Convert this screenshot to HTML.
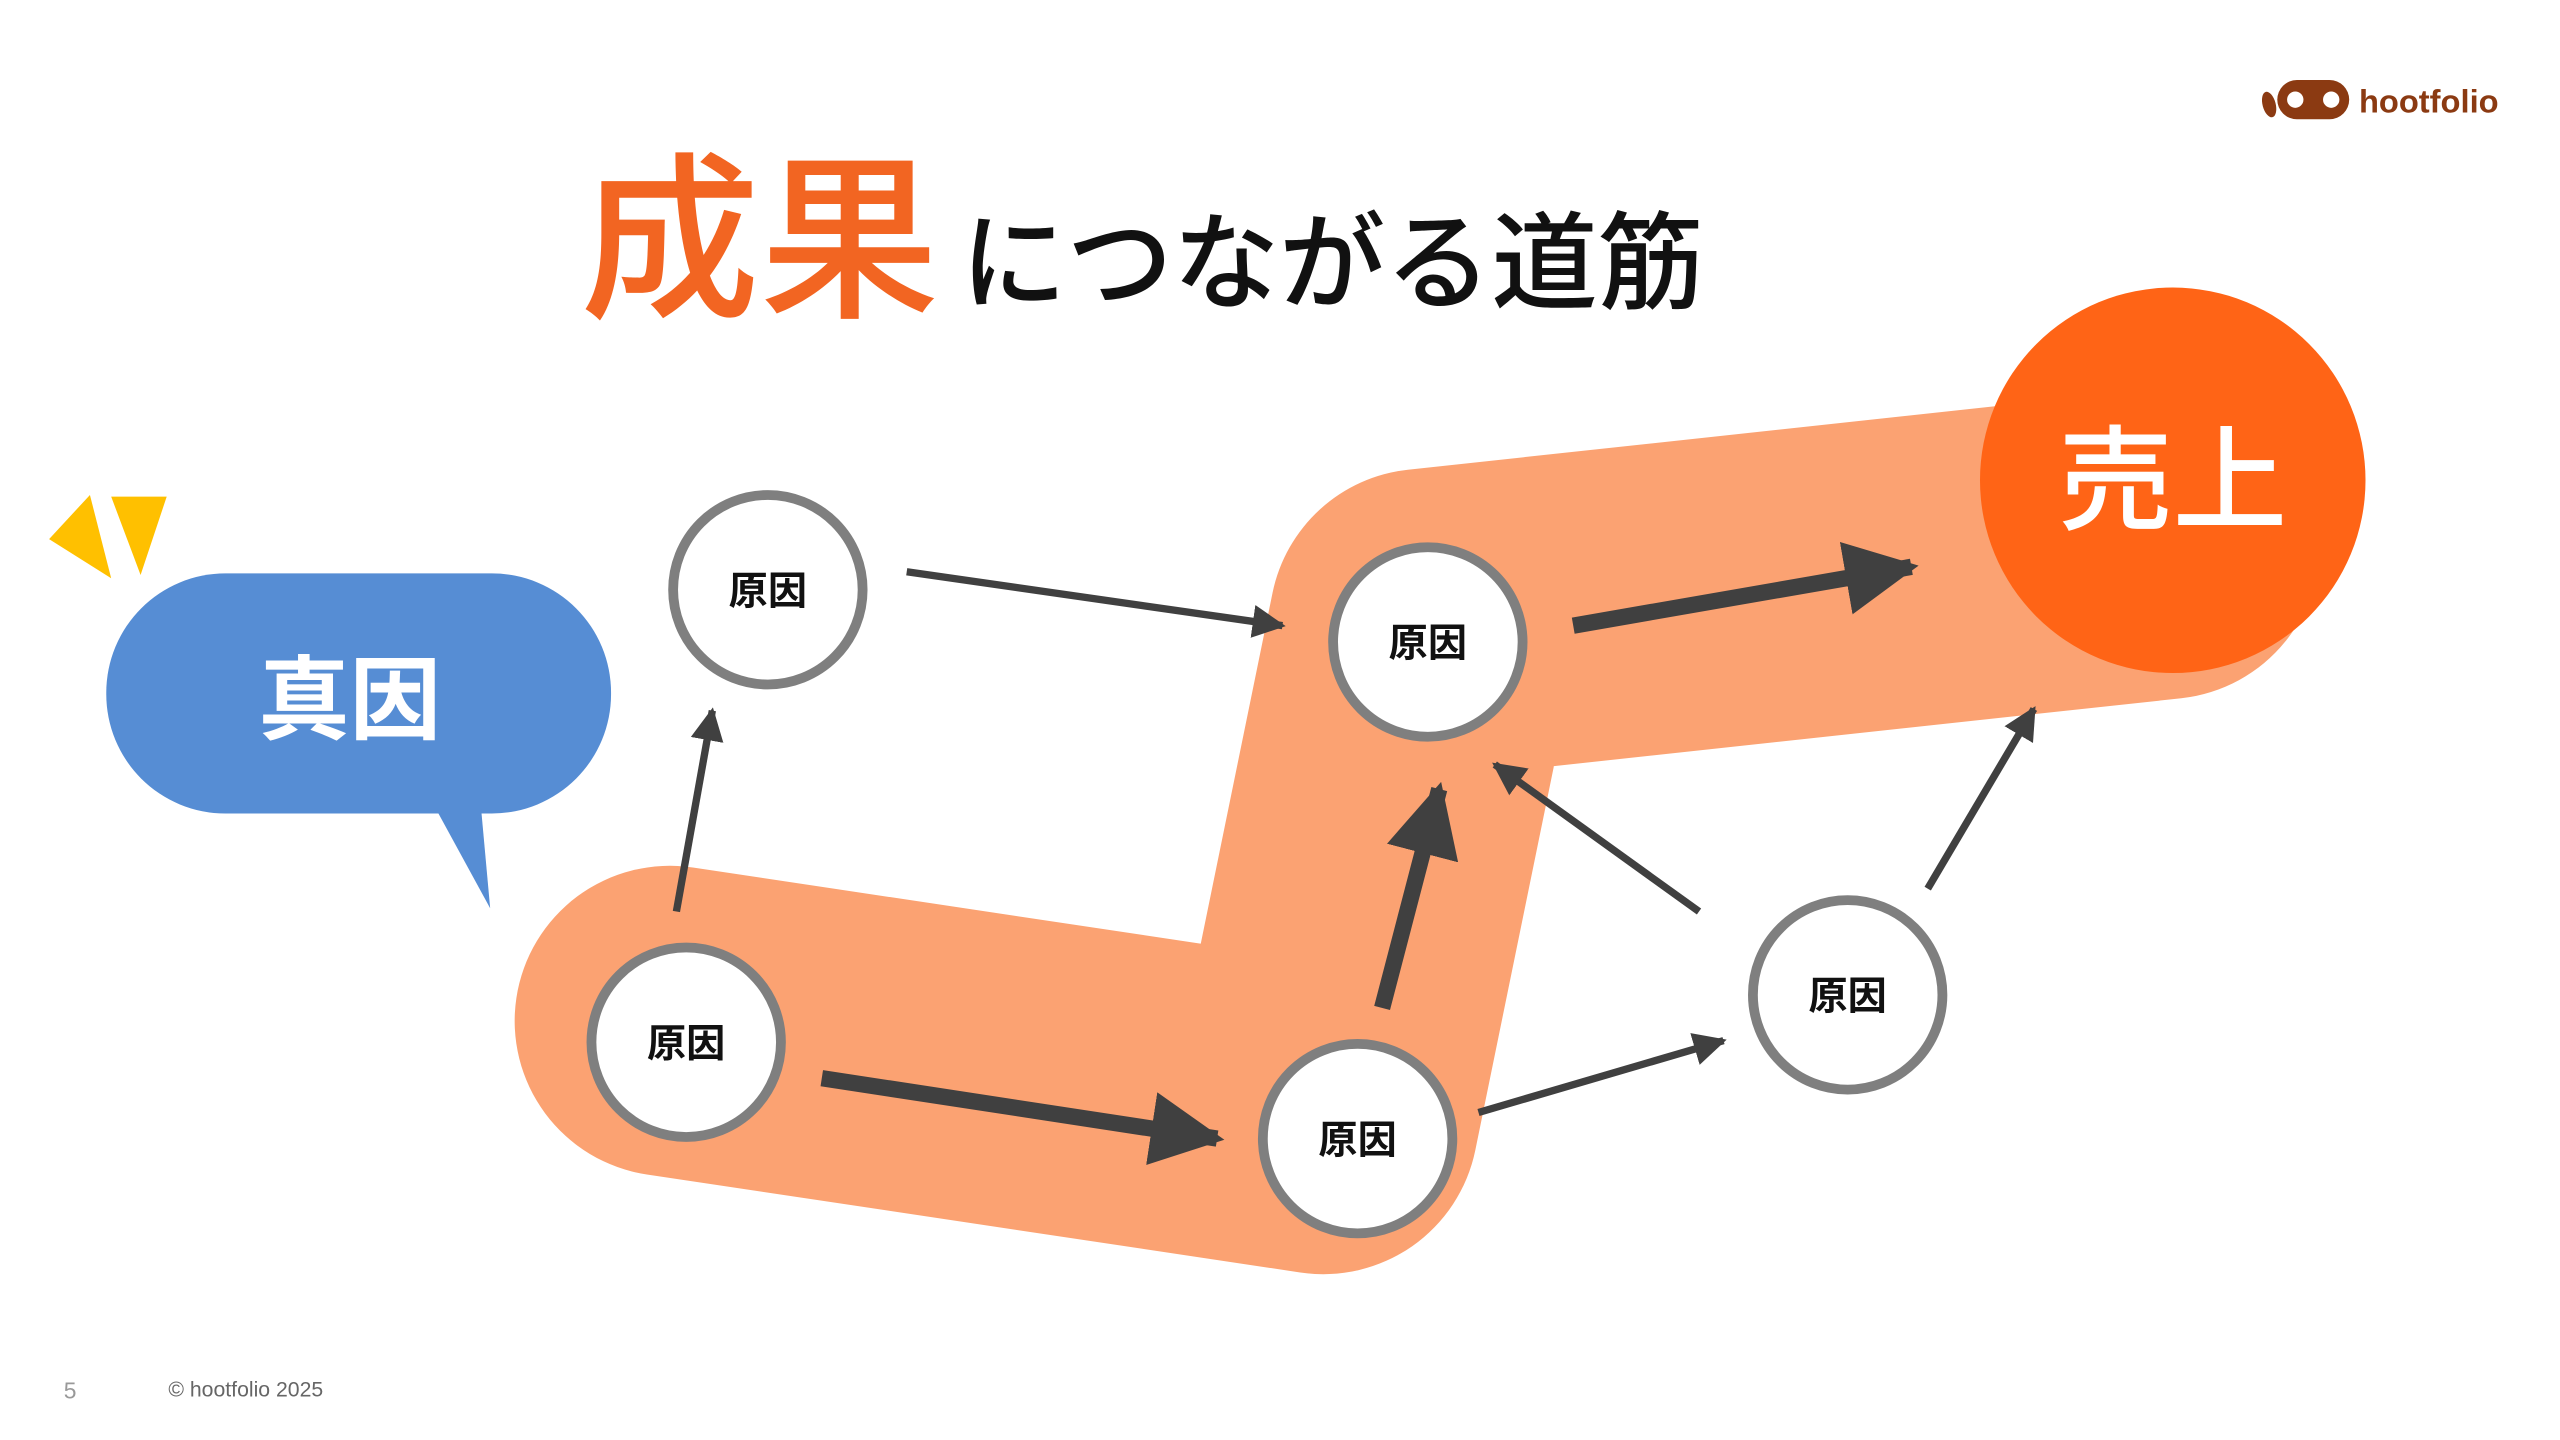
<!DOCTYPE html>
<html><head><meta charset="utf-8"><style>
html,body{margin:0;padding:0;background:#fff;}
svg{display:block}
text{font-family:"Liberation Sans","Noto Sans CJK JP",sans-serif;}
</style></head><body>
<svg width="2560" height="1440" viewBox="0 0 1567 881.5" xmlns="http://www.w3.org/2000/svg">
<defs>
<marker id="ht" viewBox="0 0 10 10" refX="9" refY="5" markerWidth="4.5" markerHeight="4.5" orient="auto" markerUnits="strokeWidth"><path d="M0,0 L10,5 L0,10 z" fill="#404040"/></marker>
<marker id="hk" viewBox="0 0 10 10" refX="9" refY="5" markerWidth="4.5" markerHeight="4.5" orient="auto" markerUnits="strokeWidth"><path d="M0,0 L10,5 L0,10 z" fill="#404040"/></marker>
</defs>
<!-- logo -->
<g fill="#8B3A12">
<ellipse cx="1389" cy="64" rx="4" ry="8" transform="rotate(-15 1389 64)"/>
<rect x="1394" y="49" width="44" height="24" rx="12"/>
</g>
<circle cx="1405" cy="61" r="5" fill="#fff"/><circle cx="1427" cy="61" r="5" fill="#fff"/>
<text x="1444" y="69" font-size="20" font-weight="bold" fill="#8B3A12">hootfolio</text>
<!-- title -->
<text x="355" y="186" font-size="110" font-weight="500" fill="#F26522">成果</text>
<text x="588" y="184" font-size="65" font-weight="500" fill="#111">につながる道筋</text>
<!-- band -->
<polyline points="410,625 810,685 872,382 1325,333" fill="none" stroke="#FBA272" stroke-width="190" stroke-linejoin="round" stroke-linecap="round"/>
<!-- yellow -->
<polygon points="30,330 55,303 68,354" fill="#FFC000"/>
<polygon points="68,304 102,304 86,352" fill="#FFC000"/>
<!-- bubble -->
<rect x="65" y="351" width="309" height="147" rx="73" fill="#568DD4"/>
<polygon points="264,490 294,490 300,556" fill="#568DD4"/>
<text x="214" y="448" font-size="56" font-weight="bold" fill="#fff" text-anchor="middle">真因</text>
<!-- sales -->
<circle cx="1330" cy="294" r="118" fill="#FF6416"/>
<text x="1330" y="319" font-size="70" font-weight="500" fill="#fff" text-anchor="middle">売上</text>
<!-- arrows -->
<g stroke="#404040" fill="none">
<line x1="414" y1="558" x2="436" y2="435" stroke-width="4.5" marker-end="url(#ht)"/>
<line x1="555" y1="350" x2="785" y2="383" stroke-width="4.5" marker-end="url(#ht)"/>
<line x1="905" y1="681" x2="1055" y2="637" stroke-width="4.5" marker-end="url(#ht)"/>
<line x1="1040" y1="558" x2="915" y2="468" stroke-width="4.5" marker-end="url(#ht)"/>
<line x1="1180" y1="544" x2="1245" y2="434" stroke-width="4.5" marker-end="url(#ht)"/>
<line x1="503" y1="660" x2="745" y2="697" stroke-width="10" marker-end="url(#hk)"/>
<line x1="846" y1="617" x2="881" y2="483" stroke-width="10" marker-end="url(#hk)"/>
<line x1="963" y1="383" x2="1170" y2="347" stroke-width="10" marker-end="url(#hk)"/>
</g>
<!-- nodes -->
<g fill="#fff" stroke="#7F7F7F" stroke-width="6">
<circle cx="470" cy="361" r="58"/>
<circle cx="874" cy="393" r="58"/>
<circle cx="420" cy="638" r="58"/>
<circle cx="831" cy="697" r="58"/>
<circle cx="1131" cy="609" r="58"/>
</g>
<g font-size="24" font-weight="bold" fill="#111" text-anchor="middle">
<text x="470" y="370">原因</text>
<text x="874" y="402">原因</text>
<text x="420" y="647">原因</text>
<text x="831" y="706">原因</text>
<text x="1131" y="618">原因</text>
</g>
<text x="39" y="856" font-size="14" fill="#999">5</text>
<text x="103" y="855" font-size="13" fill="#666">© hootfolio 2025</text>
</svg>
</body></html>
